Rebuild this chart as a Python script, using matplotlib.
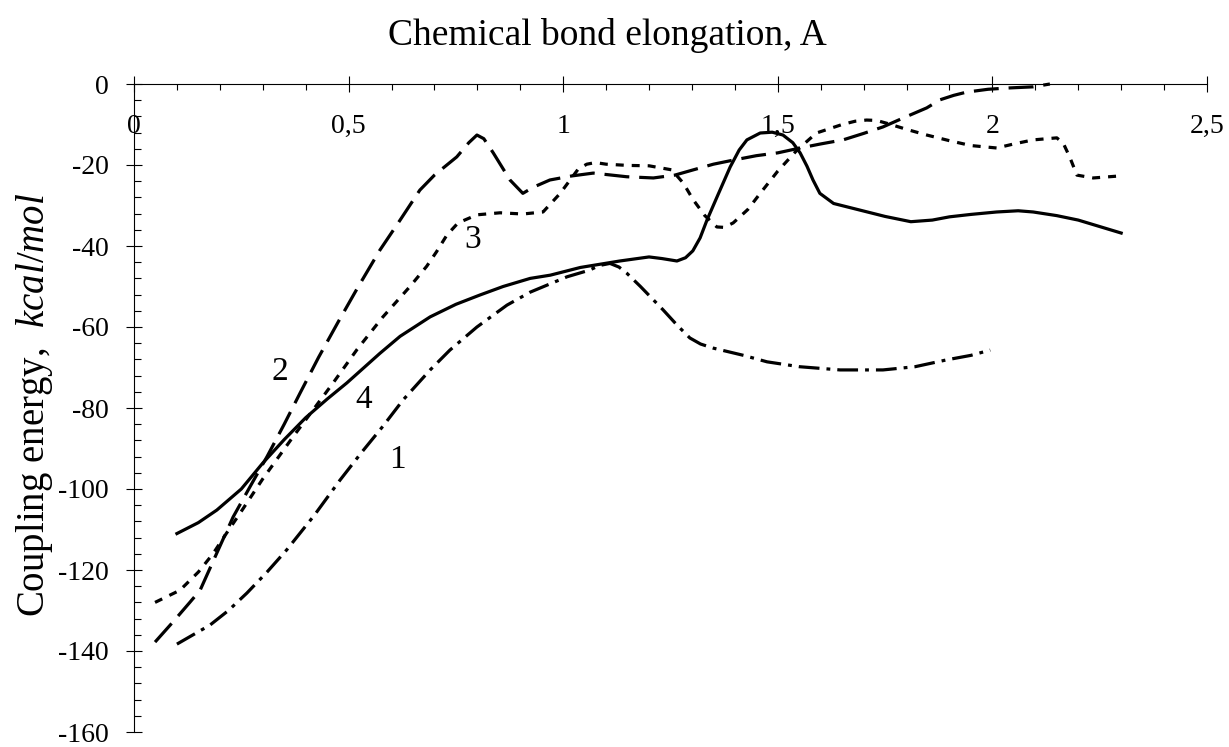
import matplotlib.pyplot as plt
from matplotlib.ticker import FixedLocator, MultipleLocator

plt.rcParams['font.family'] = ['Liberation Serif', 'DejaVu Serif']
plt.rcParams['mathtext.fontset'] = 'custom'
plt.rcParams['mathtext.rm'] = 'Liberation Serif'
plt.rcParams['mathtext.it'] = 'Liberation Serif:italic'

# curve 1 (dash-dot)
x1 = [0.10, 0.177, 0.22, 0.263, 0.31, 0.356, 0.42, 0.48, 0.53, 0.58, 0.627,
      0.69, 0.736, 0.799, 0.869, 0.923, 1.009, 1.06, 1.085, 1.109, 1.13,
      1.148, 1.18, 1.233, 1.265, 1.295, 1.32, 1.349, 1.42, 1.475, 1.55,
      1.645, 1.745, 1.82, 1.894, 1.95, 1.995]
y1 = [-138.3, -133.6, -130.0, -125.7, -120.5, -115.0, -106.5, -97.8, -91.0,
      -84.5, -78.0, -70.6, -65.7, -60.0, -54.6, -51.4, -47.6, -46.0, -44.8,
      -44.3, -45.2, -46.7, -50.0, -55.8, -59.5, -62.7, -64.2, -65.2, -67.0,
      -68.6, -69.8, -70.6, -70.6, -69.8, -68.1, -67.0, -65.7]

# curve 2 (long dash)
x2 = [0.049, 0.091, 0.13, 0.154, 0.193, 0.231, 0.27, 0.31, 0.35, 0.387,
      0.43, 0.476, 0.52, 0.573, 0.62, 0.666, 0.70, 0.752, 0.78, 0.799, 0.815,
      0.837, 0.876, 0.906, 0.93, 0.969, 1.02, 1.07, 1.148, 1.21, 1.26, 1.303,
      1.35, 1.396, 1.45, 1.50, 1.552, 1.60, 1.652, 1.70, 1.745, 1.792, 1.847,
      1.878, 1.91, 1.94, 1.99, 2.034, 2.095, 2.134]
y2 = [-137.8, -132.8, -128.0, -125.0, -115.8, -106.9, -99.5, -92.0, -84.0,
      -76.3, -67.5, -58.7, -50.5, -41.0, -33.6, -26.2, -22.5, -18.0, -14.5,
      -12.6, -13.5, -17.0, -23.7, -27.0, -25.5, -23.7, -22.7, -22.0, -22.9,
      -23.2, -22.5, -21.2, -19.8, -18.8, -17.7, -17.0, -15.8, -14.8, -13.8,
      -12.2, -10.6, -8.4, -5.9, -3.9, -2.8, -2.0, -1.3, -1.0, -0.7, 0.0]

# curve 3 (short dash)
x3 = [0.049, 0.107, 0.15, 0.184, 0.215, 0.247, 0.30, 0.37, 0.464, 0.52,
      0.58, 0.643, 0.682, 0.705, 0.729, 0.755, 0.799, 0.853, 0.906, 0.953,
      0.993, 1.035, 1.055, 1.075, 1.10, 1.15, 1.20, 1.253, 1.28, 1.303, 1.33,
      1.358, 1.375, 1.396, 1.43, 1.459, 1.50, 1.545, 1.59, 1.65, 1.68, 1.707,
      1.73, 1.754, 1.80, 1.847, 1.90, 1.95, 2.01, 2.05, 2.095, 2.15, 2.165,
      2.18, 2.197, 2.235, 2.297]
y3 = [-128.0, -125.0, -120.5, -116.0, -111.0, -106.0, -97.5, -87.2, -73.8,
      -65.5, -57.5, -50.0, -45.0, -41.4, -37.3, -34.3, -32.3, -31.8, -32.1,
      -31.6, -27.0, -21.0, -19.8, -19.4, -19.8, -20.1, -20.2, -21.2, -24.5,
      -28.6, -32.5, -35.3, -35.4, -34.3, -31.0, -27.0, -21.5, -16.3, -12.1,
      -10.0, -9.2, -8.9, -9.0, -9.7, -11.2, -12.6, -14.0, -15.2, -15.8, -14.8,
      -13.8, -13.3, -14.6, -18.0, -22.5, -23.2, -22.7]

# curve 4 (solid)
x4 = [0.10, 0.15, 0.193, 0.25, 0.30, 0.35, 0.40, 0.45, 0.496, 0.573, 0.62,
      0.69, 0.75, 0.806, 0.86, 0.923, 0.97, 1.04, 1.132, 1.20, 1.23, 1.265,
      1.285, 1.302, 1.319, 1.335, 1.36, 1.389, 1.41, 1.428, 1.459, 1.487,
      1.512, 1.535, 1.552, 1.568, 1.582, 1.598, 1.63, 1.69, 1.75, 1.81, 1.86,
      1.90, 1.95, 2.01, 2.06, 2.095, 2.15, 2.20, 2.25, 2.30]
y4 = [-111.0, -108.3, -105.2, -100.0, -93.6, -87.8, -82.4, -77.8, -73.8,
      -66.5, -62.3, -57.5, -54.4, -52.1, -50.0, -48.0, -47.2, -45.3, -43.7,
      -42.7, -43.1, -43.7, -42.9, -41.2, -38.0, -33.6, -27.5, -20.5, -16.3,
      -13.8, -12.1, -11.9, -12.6, -14.5, -17.0, -20.3, -23.7, -27.0, -29.5,
      -31.1, -32.7, -34.0, -33.6, -32.8, -32.2, -31.6, -31.3, -31.6, -32.5,
      -33.6, -35.2, -36.8]

curve_labels = ['1', '2', '3', '4']
label_x = [0.613, 0.34, 0.788, 0.534]
label_y = [-92.8, -71.1, -38.5, -78.0]

xticks = [0, 0.5, 1, 1.5, 2, 2.5]
xtick_labels = ['0', '0,5', '1', '1,5', '2', '2,5']
yticks = [0, -20, -40, -60, -80, -100, -120, -140, -160]
ytick_labels = ['0', '-20', '-40', '-60', '-80', '-100', '-120', '-140', '-160']

W, H = 1229, 747
fig = plt.figure(figsize=(W / 100, H / 100), dpi=100)
ax = fig.add_axes([134 / W, 15 / H, (1207 - 134) / W, (732 - 84) / H])
ax.set_xlim(0, 2.5)
ax.set_ylim(-160, 0)

lw = 2.3
ax.plot(x1, y1, color='black', lw=lw, dashes=(6.5, 2.2, 1.2, 2.2))
ax.plot(x2, y2, color='black', lw=lw, dashes=(7.8, 3.1), clip_on=False)
ax.plot(x3, y3, color='black', lw=lw, dashes=(2.5, 2.5))
ax.plot(x4, y4, color='black', lw=lw)

for s, lx, ly in zip(curve_labels, label_x, label_y):
    ax.text(lx, ly, s, fontsize=24, ha='center', va='center')

# x axis runs along y = 0 at the top, labels sit underneath it
for side in ('top', 'right'):
    ax.spines[side].set_visible(False)
ax.spines['bottom'].set_position(('data', 0))
for side in ('bottom', 'left'):
    ax.spines[side].set_linewidth(0.8)

ax.xaxis.set_major_locator(FixedLocator(xticks))
ax.set_xticklabels(xtick_labels)
ax.xaxis.set_minor_locator(MultipleLocator(0.1))
ax.yaxis.set_major_locator(FixedLocator(yticks))
ax.set_yticklabels(ytick_labels)
ax.yaxis.set_minor_locator(MultipleLocator(4))

ax.tick_params(axis='x', which='major', direction='inout', length=11,
               width=0.8, pad=16, labelsize=20)
ax.tick_params(axis='x', which='minor', direction='out', length=4.3, width=0.8)
ax.tick_params(axis='y', which='major', direction='inout', length=12,
               width=0.8, pad=12, labelsize=20)
ax.tick_params(axis='y', which='minor', direction='in', length=5, width=0.8)

fig.text(607 / W, 1 - 45 / H, 'Chemical bond elongation, A', fontsize=27,
         ha='center', va='baseline')
fig.text(44 / W, 1 - 405 / H, r'Coupling energy,  $\mathit{kcal/mol}$',
         fontsize=28, rotation=90, rotation_mode='anchor',
         ha='center', va='baseline')

fig.savefig('out.png', dpi=100)
